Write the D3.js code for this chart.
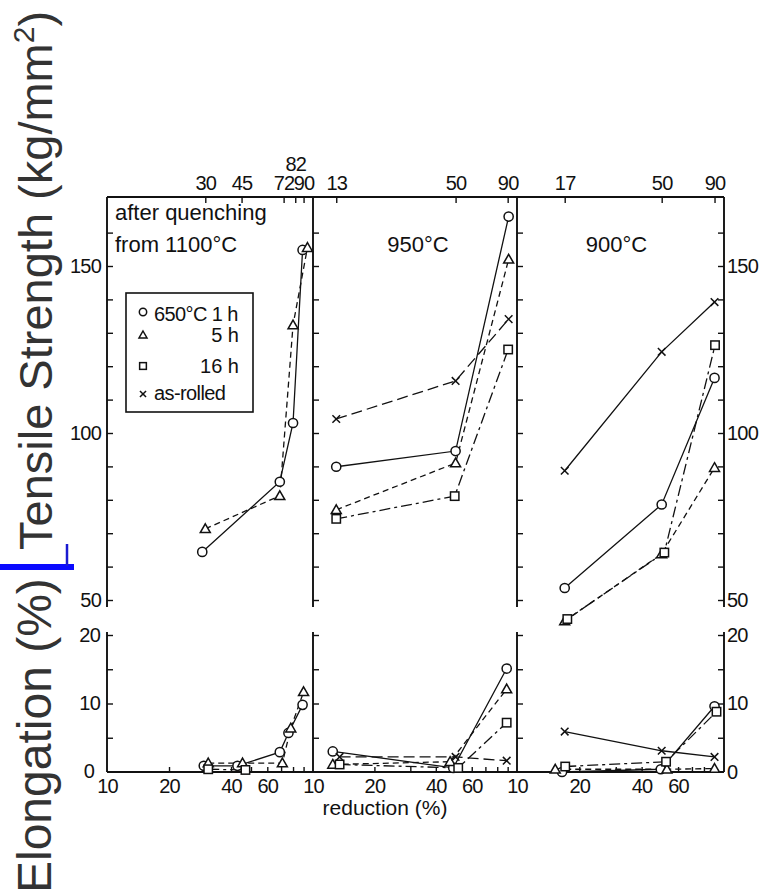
<!DOCTYPE html>
<html>
<head>
<meta charset="utf-8">
<script src="https://cdn.jsdelivr.net/npm/d3@7"></script>
<style>
  html, body { margin: 0; padding: 0; background: #fff; }
  svg { display: block; }
</style>
</head>
<body>
<div id="chart"></div>
<script>
// ---- data -------------------------------------------------------------
// panel headings (quench temperature before rolling)
const panelTitles = [["after quenching", "from 1100°C"], ["950°C"], ["900°C"]];
// reductions marked on the top edge of each panel
const panelTopTicks = [[30, 45, 72, 82, 90], [13, 50, 90], [17, 50, 90]];
// labelled reductions on the shared bottom scale
const bottomTickLabels = [10, 20, 40, 60];
const bottomMinorTicks = [20, 30, 40, 50, 60, 70, 80, 90];

// series keys and legend labels
const seriesKeys = ["1h", "5h", "16h", "rolled"];
const seriesLabels = ["650°C 1 h", "5 h", "16 h", "as-rolled"];

// tensile strength (kg/mm²): [series, reduction %, value]
const tensile1100 = [
  ["1h", 29, 64.4], ["1h", 69, 85.4], ["1h", 80, 103], ["1h", 89, 154.8],
  ["5h", 30, 71.3], ["5h", 69, 81.2], ["5h", 80, 132.3], ["5h", 94, 155.5]
];
const tensile950 = [
  ["rolled", 13, 104.2], ["rolled", 50, 115.6], ["rolled", 91, 134.1],
  ["1h", 13, 89.9], ["1h", 50, 94.6], ["1h", 91, 164.8],
  ["5h", 13, 77], ["5h", 50, 91], ["5h", 91, 152],
  ["16h", 13, 74.3], ["16h", 49.5, 81.1], ["16h", 90.5, 125]
];
const tensile900 = [
  ["rolled", 17, 88.7], ["rolled", 50, 124.3], ["rolled", 90, 139.2],
  ["1h", 17, 53.6], ["1h", 50, 78.6], ["1h", 90, 116.5],
  ["5h", 17, 43.7], ["5h", 50, 63.8], ["5h", 90, 89.6],
  ["16h", 17.5, 44.3], ["16h", 51.5, 64.2], ["16h", 90.5, 126.3]
];

// elongation (%): [series, reduction %, value]
const elong1100 = [
  ["1h", 29.5, 0.9], ["1h", 43, 0.9], ["1h", 69, 2.9], ["1h", 76, 5.7], ["1h", 89, 9.8],
  ["5h", 31, 1.3], ["5h", 45.5, 1.3], ["5h", 71, 1.3], ["5h", 78, 6.4], ["5h", 90, 11.7],
  ["16h", 31, 0.4], ["16h", 47, 0.3]
];
const elong950 = [
  ["rolled", 13.5, 2.2], ["rolled", 50, 2.2], ["rolled", 89, 1.65],
  ["1h", 12.5, 3.0], ["1h", 48.7, 0.6], ["1h", 89, 15.1],
  ["5h", 12.5, 1.1], ["5h", 47, 1.5], ["5h", 89, 12.1],
  ["16h", 13.5, 1.1], ["16h", 51.5, 0.6], ["16h", 89, 7.2]
];
const elong900 = [
  ["rolled", 17, 5.9], ["rolled", 50, 3.1], ["rolled", 90, 2.2],
  ["1h", 16.5, 0.0], ["1h", 49.5, 0.4], ["1h", 90, 9.6],
  ["5h", 15.3, 0.4], ["5h", 53, 0.4], ["5h", 90, 0.5],
  ["16h", 17.1, 0.8], ["16h", 52.5, 1.5], ["16h", 92, 8.8]
];

const tensileByPanel = [tensile1100, tensile950, tensile900];
const elongByPanel = [elong1100, elong950, elong900];

// ---- layout -----------------------------------------------------------
const W = 763, H = 895;
const panelEdges = [107, 313, 517, 724];
const topY0 = 197, topY1 = 607, botY0 = 632, botY1 = 772;
const INK = "#111";
const FONT = "'Liberation Sans', Arial, sans-serif";

const svg = d3.select("#chart").append("svg")
  .attr("width", W).attr("height", H)
  .attr("viewBox", `0 0 ${W} ${H}`);

const yTop = d3.scaleLinear().domain([50, 150]).range([600, 266]);
const yBot = d3.scaleLinear().domain([0, 20]).range([botY1, 635]);
const xScales = [0, 1, 2].map(i =>
  d3.scaleLog().domain([10, 100]).range([panelEdges[i], panelEdges[i + 1]]));

// line dash per series; as-rolled differs between panels
const dashFor = (key, panel) => {
  if (key === "1h") return null;
  if (key === "5h") return "6,4";
  if (key === "16h") return "11,4,3,4";
  return panel === 1 ? "11,5" : null;
};

// ---- marker shapes ----------------------------------------------------
function marker(g, key, cx, cy, s) {
  const m = g.append("g").attr("transform", `translate(${cx},${cy})`)
    .attr("fill", "#fff").attr("stroke", INK).attr("stroke-width", 1.5);
  if (key === "1h") {
    m.append("circle").attr("r", 4.6 * s);
  } else if (key === "5h") {
    const a = 5 * s;
    m.append("path").attr("d", `M0,${-a}L${a},${a * 0.75}L${-a},${a * 0.75}Z`);
  } else if (key === "16h") {
    const a = 4.2 * s;
    m.append("rect").attr("x", -a).attr("y", -a).attr("width", 2 * a).attr("height", 2 * a);
  } else {
    const a = 3.8 * s;
    m.append("path").attr("d", `M${-a},${-a}L${a},${a}M${a},${-a}L${-a},${a}`).attr("fill", "none");
  }
}

// ---- frame ------------------------------------------------------------
const frame = svg.append("g").attr("stroke", INK).attr("stroke-width", 1.9).attr("fill", "none");
frame.append("line").attr("x1", panelEdges[0]).attr("x2", panelEdges[3]).attr("y1", topY0).attr("y2", topY0);
frame.append("line").attr("x1", panelEdges[0]).attr("x2", panelEdges[3]).attr("y1", botY1).attr("y2", botY1);
panelEdges.forEach(x => {
  frame.append("line").attr("x1", x).attr("x2", x).attr("y1", topY0).attr("y2", topY1);
  frame.append("line").attr("x1", x).attr("x2", x).attr("y1", botY0).attr("y2", botY1);
});

function styleAxis(g, size) {
  g.select(".domain").remove();
  g.attr("font-family", FONT).attr("font-size", size);
  g.selectAll("line").attr("stroke", INK).attr("stroke-width", 1.4);
  g.selectAll("text").attr("fill", INK).attr("letter-spacing", "-0.8px");
}

// y ticks pointing into each panel
panelEdges.forEach((x, i) => {
  const right = i === 3;
  const ax = right ? d3.axisLeft : d3.axisRight;
  svg.append("g").attr("transform", `translate(${x},0)`)
    .call(ax(yTop).tickValues(d3.range(50, 161, 10)).tickSize(6).tickFormat(""))
    .call(g => styleAxis(g, 20));
  svg.append("g").attr("transform", `translate(${x},0)`)
    .call(ax(yBot).tickValues([5, 10, 15, 20]).tickSize(6).tickFormat(""))
    .call(g => styleAxis(g, 20));
});

// y labels, left and right
svg.append("g").attr("transform", `translate(${panelEdges[0]},0)`)
  .call(d3.axisLeft(yTop).tickValues([50, 100, 150]).tickSize(0).tickPadding(6))
  .call(g => styleAxis(g, 20));
svg.append("g").attr("transform", `translate(${panelEdges[0]},0)`)
  .call(d3.axisLeft(yBot).tickValues([0, 10, 20]).tickSize(0).tickPadding(7))
  .call(g => styleAxis(g, 20))
  .call(g => g.selectAll(".tick").filter(d => d === 0).select("text").attr("x", -13).attr("dy", "0.25em"));
svg.append("g").attr("transform", `translate(${panelEdges[3]},0)`)
  .call(d3.axisRight(yTop).tickValues([50, 100, 150]).tickSize(0).tickPadding(3))
  .call(g => styleAxis(g, 20));
svg.append("g").attr("transform", `translate(${panelEdges[3]},0)`)
  .call(d3.axisRight(yBot).tickValues([0, 10, 20]).tickSize(0).tickPadding(3))
  .call(g => styleAxis(g, 20));

// x ticks per panel
xScales.forEach((x, i) => {
  // marked reductions on top edge
  svg.append("g").attr("transform", `translate(0,${topY0})`)
    .call(d3.axisTop(x).tickValues(panelTopTicks[i]).tickSize(-6).tickPadding(7).tickFormat(d3.format("d")))
    .call(g => styleAxis(g, 20))
    .call(g => g.selectAll(".tick").filter(d => d === 82).select("text").attr("y", -26));
  // minor ticks on the bottom edge
  svg.append("g").attr("transform", `translate(0,${botY1})`)
    .call(d3.axisTop(x).tickValues(bottomMinorTicks).tickSize(5).tickFormat(""))
    .call(g => styleAxis(g, 20));
  // labels on the bottom edge
  svg.append("g").attr("transform", `translate(0,${botY1})`)
    .call(d3.axisBottom(x).tickValues(bottomTickLabels).tickSize(0).tickPadding(7).tickFormat(d3.format("d")))
    .call(g => styleAxis(g, 20));
});

// ---- data lines and markers ------------------------------------------
function drawSeries(rows, x, y, panel) {
  const g = svg.append("g");
  seriesKeys.forEach(key => {
    const pts = rows.filter(r => r[0] === key);
    if (!pts.length) return;
    const line = d3.line().x(d => x(d[1])).y(d => y(d[2]));
    g.append("path").attr("d", line(pts))
      .attr("fill", "none").attr("stroke", INK).attr("stroke-width", 1.3)
      .attr("stroke-dasharray", dashFor(key, panel));
  });
  seriesKeys.forEach(key => {
    rows.filter(r => r[0] === key).forEach(d => marker(g, key, x(d[1]), y(d[2]), 1));
  });
}
xScales.forEach((x, i) => {
  drawSeries(tensileByPanel[i], x, yTop, i);
  drawSeries(elongByPanel[i], x, yBot, i);
});

// ---- panel headings ---------------------------------------------------
const txt = svg.append("g").attr("font-family", FONT).attr("fill", INK).attr("font-size", 22);
panelTitles[0].forEach((t, k) => {
  txt.append("text").attr("x", 115).attr("y", 220 + k * 32).text(t);
});
txt.append("text").attr("x", (xScales[1](10) + xScales[1](100)) / 2 + 3).attr("y", 252)
  .attr("text-anchor", "middle").text(panelTitles[1][0]);
txt.append("text").attr("x", (xScales[2](10) + xScales[2](100)) / 2 - 4).attr("y", 252)
  .attr("text-anchor", "middle").text(panelTitles[2][0]);
txt.append("text").attr("x", 385).attr("y", 815).attr("text-anchor", "middle")
  .attr("font-size", 21).text("reduction (%)");

// ---- legend -----------------------------------------------------------
const leg = svg.append("g").attr("font-family", FONT).attr("font-size", 20).attr("fill", INK);
leg.append("rect").attr("x", 126).attr("y", 293).attr("width", 127).attr("height", 119)
  .attr("fill", "#fff").attr("stroke", INK).attr("stroke-width", 1.6);
const legRows = [312, 335, 366, 394];
const legBase = [321, 342, 373, 400];
seriesKeys.forEach((key, k) => {
  marker(leg, key, 143, legRows[k], 0.8);
  const t = leg.append("text").attr("y", legBase[k]).text(seriesLabels[k]);
  if (k === 1 || k === 2) t.attr("x", 239).attr("text-anchor", "end");
  else t.attr("x", 154).attr("letter-spacing", "-0.6px");
});

// ---- axis titles ------------------------------------------------------
const titles = svg.append("g").attr("font-family", FONT).attr("fill", "#333");
const ts = titles.append("text").attr("transform", "translate(52,550) rotate(-90)")
  .attr("font-size", 47);
ts.append("tspan").text("Tensile Strength (kg/mm");
ts.append("tspan").attr("font-size", 30).attr("dy", -18).text("2");
ts.append("tspan").attr("dy", 18).text(")");
titles.append("text").attr("transform", "translate(51,893) rotate(-90)")
  .attr("font-size", 48).text("Elongation (%)");

// blue marker bar between the two titles
svg.append("rect").attr("x", 0).attr("y", 564).attr("width", 74).attr("height", 6).attr("fill", "#0a0aff");
svg.append("line").attr("x1", 67).attr("x2", 67).attr("y1", 544).attr("y2", 566)
  .attr("stroke", "#1a1ad0").attr("stroke-width", 2.5);
</script>
</body>
</html>
